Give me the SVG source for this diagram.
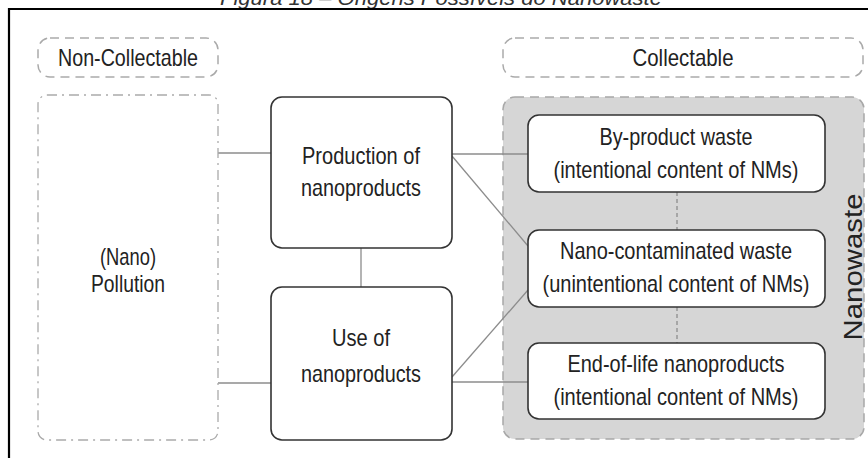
<svg xmlns="http://www.w3.org/2000/svg" width="868" height="458" viewBox="0 0 868 458">
  <style>
    .lbl { font-family: 'Liberation Sans Narrow', 'Liberation Sans', Arial, sans-serif; font-size: 24px; fill: #222; text-anchor: middle; }
    .node { fill: #fff; stroke: #333; stroke-width: 1.6; }
    .group { fill: none; stroke: #aaa; stroke-width: 1.5; stroke-dasharray: 9 6; }
    .pollution { fill: #fff; stroke: #aaa; stroke-width: 1.3; stroke-dasharray: 10 5 2 5; }
    .panel { fill: #d6d6d6; stroke: #a8a8a8; stroke-width: 1.5; stroke-dasharray: 9 6; }
    .link { stroke: #8c8c8c; stroke-width: 1.3; fill: none; }
    .dlink { stroke: #777; stroke-width: 1; fill: none; stroke-dasharray: 4 3; }
    .caption { font-family: 'Liberation Sans', Arial, sans-serif; font-style: italic; font-size: 20px; fill: #333; }
  </style>

  <rect width="868" height="458" fill="#fff"/>

  <!-- caption, clipped by the page edge -->
  <text class="caption" x="220" y="5" textLength="442" lengthAdjust="spacingAndGlyphs">Figura 18 – Origens Possíveis do Nanowaste</text>

  <!-- frame -->
  <path d="M9 458 V9 H868" fill="none" stroke="#000" stroke-width="2.2"/>

  <!-- headers -->
  <g id="non-collectable">
    <rect class="group" x="38" y="38" width="180" height="39" rx="12"/>
    <text class="lbl" x="128" y="66" textLength="140" lengthAdjust="spacingAndGlyphs">Non-Collectable</text>
  </g>
  <g id="collectable">
    <rect class="group" x="503" y="38" width="360" height="39" rx="12"/>
    <text class="lbl" x="683" y="66" textLength="101" lengthAdjust="spacingAndGlyphs">Collectable</text>
  </g>

  <!-- nanowaste panel -->
  <g id="nanowaste">
    <rect class="panel" x="503" y="97" width="361" height="342" rx="12"/>
    <text class="lbl" transform="translate(862 267) rotate(-90)" x="0" y="0" style="font-family:'Liberation Sans', Arial, sans-serif;font-size:25px" textLength="147" lengthAdjust="spacingAndGlyphs">Nanowaste</text>
  </g>

  <!-- connectors -->
  <g id="connectors">
    <line class="link" x1="218" y1="153" x2="271" y2="153"/>
    <line class="link" x1="218" y1="383" x2="271" y2="383"/>
    <line class="link" x1="361" y1="248" x2="361" y2="287"/>
    <line class="link" x1="452" y1="154" x2="528" y2="154"/>
    <line class="link" x1="452" y1="156" x2="528" y2="246"/>
    <line class="link" x1="452" y1="377" x2="528" y2="290"/>
    <line class="link" x1="452" y1="382" x2="528" y2="382"/>
    <line class="dlink" x1="677" y1="192" x2="677" y2="230"/>
    <line class="dlink" x1="677" y1="307" x2="677" y2="343"/>
  </g>

  <g id="pollution">
    <rect class="pollution" x="38" y="95" width="180" height="345" rx="9"/>
    <text class="lbl" x="128" y="265" textLength="56" lengthAdjust="spacingAndGlyphs">(Nano)</text>
    <text class="lbl" x="128" y="292" textLength="74" lengthAdjust="spacingAndGlyphs">Pollution</text>
  </g>

  <g id="production">
    <rect class="node" x="271" y="97" width="181" height="151" rx="11"/>
    <text class="lbl" x="361" y="164" textLength="118" lengthAdjust="spacingAndGlyphs">Production of</text>
    <text class="lbl" x="361" y="196" textLength="120" lengthAdjust="spacingAndGlyphs">nanoproducts</text>
  </g>

  <g id="use">
    <rect class="node" x="271" y="287" width="181" height="153" rx="11"/>
    <text class="lbl" x="361" y="346" textLength="58" lengthAdjust="spacingAndGlyphs">Use of</text>
    <text class="lbl" x="361" y="382" textLength="120" lengthAdjust="spacingAndGlyphs">nanoproducts</text>
  </g>

  <g id="by-product">
    <rect class="node" x="528" y="115" width="297" height="77" rx="11"/>
    <text class="lbl" x="676" y="145" textLength="153" lengthAdjust="spacingAndGlyphs">By-product waste</text>
    <text class="lbl" x="676" y="178" textLength="245" lengthAdjust="spacingAndGlyphs">(intentional content of NMs)</text>
  </g>

  <g id="nano-contaminated">
    <rect class="node" x="528" y="230" width="297" height="77" rx="11"/>
    <text class="lbl" x="676" y="259" textLength="232" lengthAdjust="spacingAndGlyphs">Nano-contaminated waste</text>
    <text class="lbl" x="676" y="292" textLength="267" lengthAdjust="spacingAndGlyphs">(unintentional content of NMs)</text>
  </g>

  <g id="end-of-life">
    <rect class="node" x="528" y="343" width="297" height="76" rx="11"/>
    <text class="lbl" x="676" y="372" textLength="217" lengthAdjust="spacingAndGlyphs">End-of-life nanoproducts</text>
    <text class="lbl" x="676" y="405" textLength="245" lengthAdjust="spacingAndGlyphs">(intentional content of NMs)</text>
  </g>
</svg>
